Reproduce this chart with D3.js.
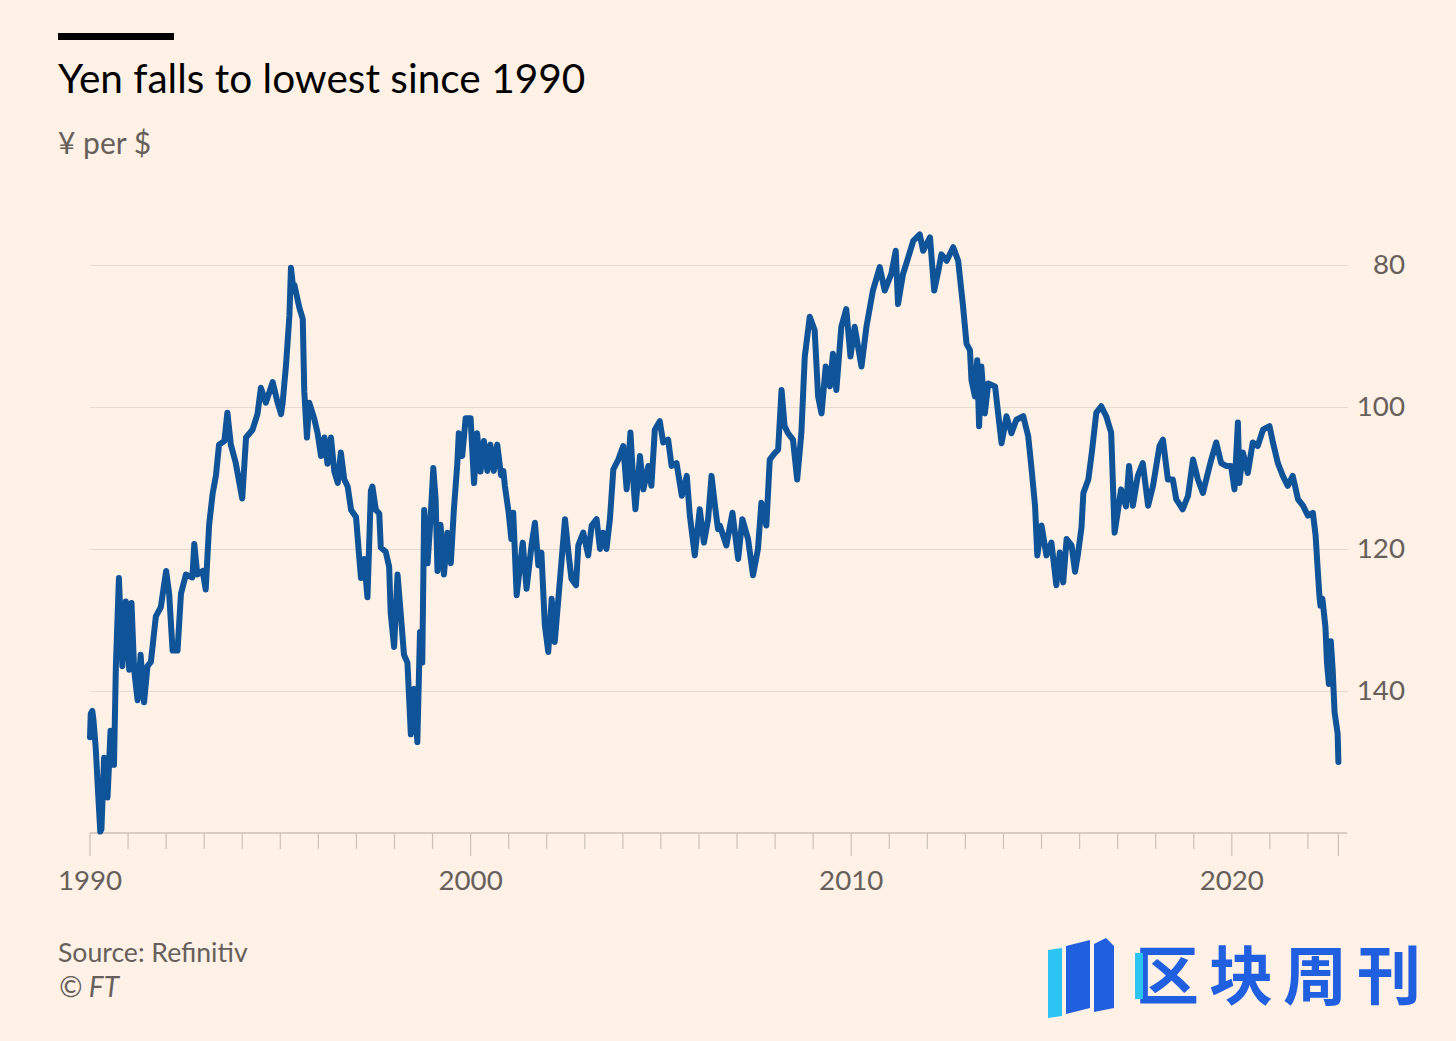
<!DOCTYPE html>
<html>
<head>
<meta charset="utf-8">
<script src="https://cdn.jsdelivr.net/npm/d3@7"></script>
<style>
  html, body { margin: 0; padding: 0; background: #fff1e5; }
  svg { display: block; }
</style>
</head>
<body>
<svg id="chart" width="1456" height="1041"></svg>
<script>
// ---- Data ----
const dates = [
  1990.00,1990.02,1990.06,1990.09,1990.15,1990.22,1990.27,1990.30,1990.37,1990.46,1990.54,1990.63,1990.68,1990.76,1990.85,1990.94,
  1991.03,1991.09,1991.16,1991.25,1991.33,1991.42,1991.51,1991.60,1991.73,1991.86,
  1992.00,1992.08,1992.17,1992.30,1992.39,1992.52,1992.69,1992.74,1992.82,1992.96,
  1993.04,1993.13,1993.22,1993.31,1993.39,1993.53,1993.61,1993.70,1993.83,
  1994.00,1994.10,1994.27,1994.40,1994.49,1994.62,1994.80,1994.93,
  1995.02,1995.06,1995.15,1995.24,1995.28,1995.33,1995.37,1995.50,1995.59,1995.63,1995.70,1995.76,1995.89,1995.98,
  1996.07,1996.16,1996.24,1996.33,1996.42,1996.51,1996.59,1996.68,1996.77,1996.86,1996.99,
  1997.07,1997.12,1997.20,1997.29,1997.38,1997.42,1997.51,1997.60,1997.64,1997.77,1997.86,1997.90,1997.99,
  1998.08,1998.17,1998.25,1998.34,1998.43,1998.52,1998.60,1998.67,1998.73,1998.78,1998.87,1998.95,
  1999.02,1999.08,1999.13,1999.21,1999.30,1999.39,1999.48,1999.56,1999.65,1999.69,1999.78,1999.87,
  2000.00,2000.09,2000.17,2000.26,2000.35,2000.44,2000.52,2000.61,2000.70,2000.80,2000.86,2000.90,
  2001.00,2001.07,2001.12,2001.21,2001.30,2001.37,2001.47,2001.60,2001.69,2001.78,2001.86,2001.95,
  2002.04,2002.13,2002.21,2002.35,2002.48,2002.57,2002.65,2002.77,2002.83,2002.96,
  2003.09,2003.18,2003.31,2003.40,2003.48,2003.57,2003.66,2003.75,2003.88,
  2004.01,2004.10,2004.20,2004.27,2004.33,2004.45,2004.54,2004.67,2004.75,2004.84,2004.97,
  2005.06,2005.19,2005.28,2005.41,2005.55,2005.68,2005.76,2005.89,
  2006.02,2006.13,2006.24,2006.33,2006.42,2006.50,2006.55,2006.72,2006.88,
  2007.03,2007.14,2007.29,2007.42,2007.55,2007.64,2007.77,2007.86,2007.99,
  2008.08,2008.17,2008.25,2008.34,2008.47,2008.58,2008.69,2008.78,2008.91,
  2009.04,2009.13,2009.22,2009.33,2009.44,2009.52,2009.61,2009.74,2009.87,2009.98,
  2010.09,2010.27,2010.40,2010.57,2010.75,2010.88,
  2011.05,2011.17,2011.23,2011.36,2011.50,2011.63,2011.80,2011.89,
  2012.07,2012.18,2012.29,2012.37,2012.51,2012.68,2012.81,2012.94,
  2013.03,2013.12,2013.16,2013.25,2013.31,2013.36,2013.42,2013.51,2013.60,2013.78,2013.86,2013.95,
  2014.08,2014.21,2014.34,2014.52,2014.65,2014.74,2014.83,2014.89,
  2015.00,2015.13,2015.26,2015.39,2015.48,2015.57,2015.66,2015.79,2015.88,2015.95,
  2016.05,2016.10,2016.23,2016.32,2016.44,2016.57,2016.70,2016.83,2016.92,
  2017.00,2017.09,2017.22,2017.30,2017.40,2017.53,2017.66,2017.80,2017.93,
  2018.10,2018.19,2018.32,2018.45,2018.54,2018.71,2018.85,2018.98,
  2019.11,2019.24,2019.37,2019.46,2019.59,2019.72,2019.85,2019.98,
  2020.07,2020.16,2020.20,2020.29,2020.42,2020.55,2020.68,2020.82,2020.99,
  2021.08,2021.21,2021.34,2021.47,2021.60,2021.74,2021.87,
  2022.00,2022.13,2022.20,2022.25,2022.30,2022.33,2022.38,2022.46,2022.50,2022.55,2022.60,2022.65,2022.70,2022.74,2022.78,2022.80
];
const usdjpy = [
  146.5,143.2,142.8,144.0,148.0,155.0,159.8,159.5,149.4,155.0,145.6,150.4,136.5,124.1,136.5,127.4,
  137.0,127.6,137.0,141.3,134.9,141.6,136.5,135.9,129.5,128.2,
  123.1,126.3,134.3,134.3,126.3,123.6,124.0,119.3,123.6,123.1,
  125.7,116.6,112.3,109.6,105.3,104.8,100.8,105.3,107.9,
  112.9,104.3,103.2,101.0,97.3,99.4,96.5,99.4,
  101.0,99.5,94.1,87.1,80.4,82.8,82.8,86.0,87.6,97.8,104.3,99.4,101.6,103.7,
  106.9,104.3,108.0,104.3,109.1,110.7,106.4,110.2,111.2,114.5,115.5,
  120.9,124.1,121.4,126.8,111.8,111.2,114.5,115.0,119.8,120.4,122.5,129.0,133.8,
  123.6,129.5,134.9,136.0,146.1,139.7,147.2,131.7,136.0,114.5,122.0,115.5,
  108.6,112.9,123.1,116.6,123.6,117.7,122.0,114.5,108.0,103.7,106.9,101.6,
  101.6,110.7,103.7,109.1,104.8,109.0,105.3,109.0,105.3,109.6,109.0,111.1,
  114.9,118.6,114.9,126.5,122.3,119.1,125.6,119.5,116.3,122.3,120.5,130.7,
  134.5,127.0,133.1,124.2,115.8,120.5,124.2,125.1,119.5,117.7,
  120.9,116.7,115.8,120.0,117.7,120.0,115.8,108.8,107.4,
  105.5,111.6,103.6,110.2,114.4,106.9,111.6,108.3,111.1,103.2,102.0,
  105.0,104.6,108.3,107.9,112.5,109.7,115.3,120.9,
  114.4,119.1,115.8,109.7,113.9,117.2,116.7,119.5,114.9,
  121.4,115.8,118.6,123.7,120.0,113.5,116.7,107.4,106.5,
  106.0,97.6,102.7,103.7,104.6,110.2,103.7,92.9,87.3,
  89.2,98.5,100.9,94.3,97.1,92.5,97.6,88.7,86.2,92.9,
  88.7,94.3,88.7,83.6,80.3,83.6,
  81.3,78.0,85.5,81.3,78.9,76.6,75.7,78.0,
  76.1,83.6,80.8,78.5,79.4,77.5,79.4,85.9,
  91.1,92.0,96.2,98.5,93.4,102.7,94.3,100.9,96.7,97.1,100.9,105.1,
  101.3,103.7,101.8,101.3,104.1,108.8,113.9,120.9,
  116.7,120.9,119.1,125.1,120.5,124.7,118.6,119.5,123.2,121.0,
  117.0,112.1,110.2,106.5,100.8,99.9,101.3,103.6,117.7,
  114.9,111.6,114.0,108.3,113.9,109.7,107.9,113.9,111.1,
  105.5,104.6,110.2,110.2,113.0,114.4,112.5,107.4,
  110.2,112.1,109.3,107.4,105.0,107.9,108.3,108.3,
  111.6,102.2,110.7,106.4,109.3,105.0,105.5,103.2,102.7,
  105.0,107.9,109.7,111.1,109.7,113.0,113.9,
  115.3,114.9,118.0,122.3,126.5,128.0,127.0,131.0,136.0,139.0,133.0,137.0,143.0,144.5,146.0,150.0
];
const yTicks = [80, 100, 120, 140];
const xTickLabels = [1990, 2000, 2010, 2020];
const yearTicks = d3.range(1990, 2023);
const endDate = 2022.8;

// ---- Layout ----
const svg = d3.select("#chart");
svg.append("rect").attr("width", 1456).attr("height", 1041).attr("fill", "#fff1e5");

const x = d3.scaleLinear().domain([1990, 2023]).range([90, 1346]);
const y = d3.scaleLinear().domain([80, 160]).range([265, 833]);
const FONT = "Lato, 'Open Sans', sans-serif";

// top bar
svg.append("rect").attr("x", 58).attr("y", 33).attr("width", 116).attr("height", 7).attr("fill", "#000");

// title & subtitle
svg.append("text").attr("x", 58).attr("y", 93)
  .attr("font-family", FONT).attr("font-size", 40.6)
  .attr("fill", "#000").text("Yen falls to lowest since 1990");
svg.append("text").attr("x", 58).attr("y", 154)
  .attr("font-family", FONT).attr("font-size", 30)
  .attr("fill", "#66605c").text("¥ per $");

// gridlines + y labels
const yAxis = d3.axisRight(y).tickValues(yTicks).tickSize(1258).tickPadding(10);
const gy = svg.append("g").attr("transform", "translate(90,0)").call(yAxis);
gy.select(".domain").remove();
gy.selectAll(".tick line").attr("stroke", "#e6d9ce").attr("stroke-width", 1.2);
gy.selectAll(".tick text")
  .attr("x", 1315).attr("text-anchor", "end")
  .attr("font-family", FONT).attr("font-size", 27.7)
  .attr("fill", "#66605c");

// x axis
const gx = svg.append("g").attr("transform", "translate(0,833)");
gx.append("line").attr("x1", 90).attr("x2", 1347).attr("y1", 0).attr("y2", 0)
  .attr("stroke", "#ccc1b7").attr("stroke-width", 1.3);
gx.selectAll("line.tk").data(yearTicks.concat([endDate])).join("line").attr("class", "tk")
  .attr("x1", d => x(d)).attr("x2", d => x(d)).attr("y1", 0)
  .attr("y2", d => (d % 10 === 0 || d === endDate) ? 23 : 16)
  .attr("stroke", "#ccc1b7").attr("stroke-width", 1.2);
gx.selectAll("text").data(xTickLabels).join("text")
  .attr("x", d => x(d)).attr("y", 57).attr("text-anchor", "middle")
  .attr("font-family", FONT).attr("font-size", 27.7)
  .attr("fill", "#66605c").text(d => d);

// line
const series = dates.map((d, i) => ({ date: d, value: usdjpy[i] }));
const line = d3.line().x(d => x(d.date)).y(d => y(d.value));
svg.append("path").datum(series).attr("d", line)
  .attr("fill", "none").attr("stroke", "#0f5499").attr("stroke-width", 6)
  .attr("stroke-linejoin", "round").attr("stroke-linecap", "round");

// footer
svg.append("text").attr("x", 58).attr("y", 962)
  .attr("font-family", FONT).attr("font-size", 26.6)
  .attr("fill", "#66605c").text("Source: Refinitiv");
svg.append("text").attr("x", 59).attr("y", 997)
  .attr("font-family", FONT).attr("font-size", 28).attr("font-style", "italic")
  .attr("fill", "#66605c").text("© FT");

// watermark logo
const logo = svg.append("g");
logo.append("path").attr("d", "M1048,950 L1062,948 L1062,1016 L1048,1018 Z").attr("fill", "#2bc4f3");
logo.append("path").attr("d", "M1066,946 L1090,940 L1090,1008 L1066,1014 Z").attr("fill", "#1f5fe0");
logo.append("path").attr("d", "M1094,944 L1106,938 L1114,946 L1114,1008 L1094,1012 Z").attr("fill", "#1f5fe0");
logo.append("text").attr("x", 1135).attr("y", 999)
  .attr("font-family", "'Noto Sans CJK SC', sans-serif").attr("font-weight", 700).attr("font-size", 64)
  .attr("letter-spacing", 10)
  .attr("fill", "#1f5fe0").text("区块周刊");
logo.append("rect").attr("x", 1135).attr("y", 953).attr("width", 8).attr("height", 46).attr("fill", "#2bc4f3");
</script>
</body>
</html>
